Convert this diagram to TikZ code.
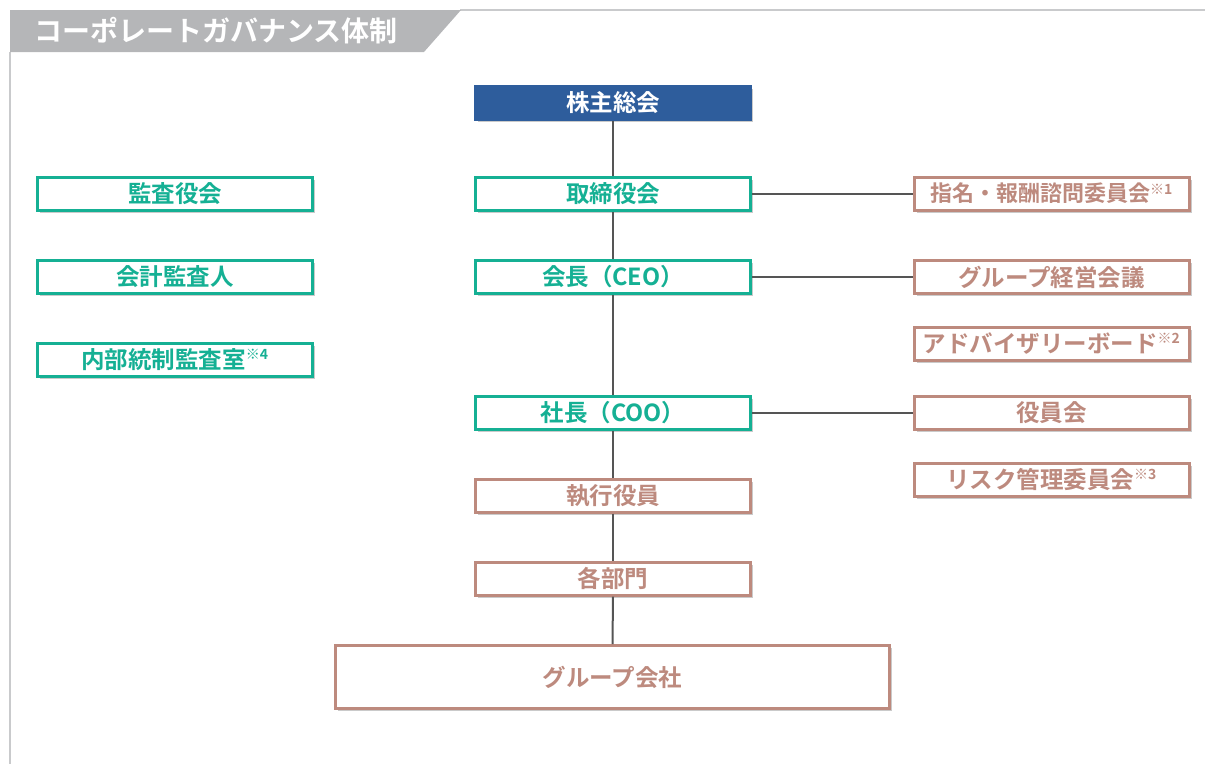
\documentclass[tikz,border=0pt]{standalone}
\usepackage{fontspec}
\setmainfont{Noto Sans CJK JP}[BoldFont={Noto Sans CJK JP Bold}]
\usetikzlibrary{shadows}
\definecolor{bandgray}{HTML}{B5B6B8}
\definecolor{framegray}{HTML}{C9CACC}
\definecolor{navy}{HTML}{2E5D9C}
\definecolor{teal}{HTML}{15B094}
\definecolor{rose}{HTML}{BD8A7E}
\definecolor{linegray}{HTML}{555555}
\newcommand{\nt}[1]{\textsuperscript{\fontsize{14pt}{14pt}\selectfont #1}}
\tikzset{
  x=1pt, y=-1pt,
  boxbase/.style={rectangle, minimum width=275pt, minimum height=33pt, inner sep=0pt,
    line width=3pt, font=\fontsize{23.5pt}{25pt}\selectfont\bfseries,
    drop shadow={shadow xshift=2.5pt, shadow yshift=-2.5pt, opacity=0.35, fill=black!60}},
  bluebox/.style={boxbase, fill=navy, draw=navy, text=white},
  greenbox/.style={boxbase, fill=white, draw=teal, text=teal},
  brownbox/.style={boxbase, fill=white, draw=rose, text=rose},
  link/.style={draw=linegray, line width=2pt}
}
\begin{document}
\begin{tikzpicture}
\useasboundingbox (0,0) rectangle (1205,764);
% frame and title band
\draw[framegray, line width=2pt] (10,52) -- (10,764);
\draw[framegray, line width=2pt] (460,10) -- (1205,10);
\fill[bandgray] (10,10) -- (461,10) -- (424,52) -- (10,52) -- cycle;
\node[anchor=west, text=white, font=\fontsize{28pt}{30pt}\selectfont\bfseries, inner sep=0pt] (title) at (34,31) {コーポレートガバナンス体制};
% center column
\node[bluebox] (kabu) at (613,102.5) {株主総会};
\node[greenbox] (tori) at (613,193.5) {取締役会};
\node[greenbox] (kaicho) at (613,277) {会長（CEO）};
\node[greenbox] (shacho) at (613,412.5) {社長（COO）};
\node[brownbox] (shikko) at (613,495.5) {執行役員};
\node[brownbox] (bumon) at (613,578.5) {各部門};
\node[brownbox, minimum width=554pt, minimum height=63pt] (kaisha) at (612.5,677) {グループ会社};
% left column
\node[greenbox] (kansayaku) at (175,193.5) {監査役会};
\node[greenbox] (kaikei) at (175,277) {会計監査人};
\node[greenbox] (naibu) at (175,360) {内部統制監査室\nt{※4}};
% right column
\node[brownbox, font=\fontsize{22pt}{24pt}\selectfont\bfseries] (shimei) at (1051.5,193.5) {指名・報酬諮問委員会\nt{※1}};
\node[brownbox] (keiei) at (1051.5,277) {グループ経営会議};
\node[brownbox] (advisory) at (1051.5,343.5) {アドバイザリーボード\nt{※2}};
\node[brownbox] (yakuin) at (1051.5,412.5) {役員会};
\node[brownbox] (risk) at (1051.5,479.5) {リスク管理委員会\nt{※3}};
% connectors
\draw[link] (kabu.south) -- (tori.north);
\draw[link] (tori.south) -- (kaicho.north);
\draw[link] (kaicho.south) -- (shacho.north);
\draw[link] (shacho.south) -- (shikko.north);
\draw[link] (shikko.south) -- (bumon.north);
\draw[link] (bumon.south) -- (kaisha.north);
\draw[link] (tori.east) -- (shimei.west);
\draw[link] (kaicho.east) -- (keiei.west);
\draw[link] (shacho.east) -- (yakuin.west);
\end{tikzpicture}
\end{document}
